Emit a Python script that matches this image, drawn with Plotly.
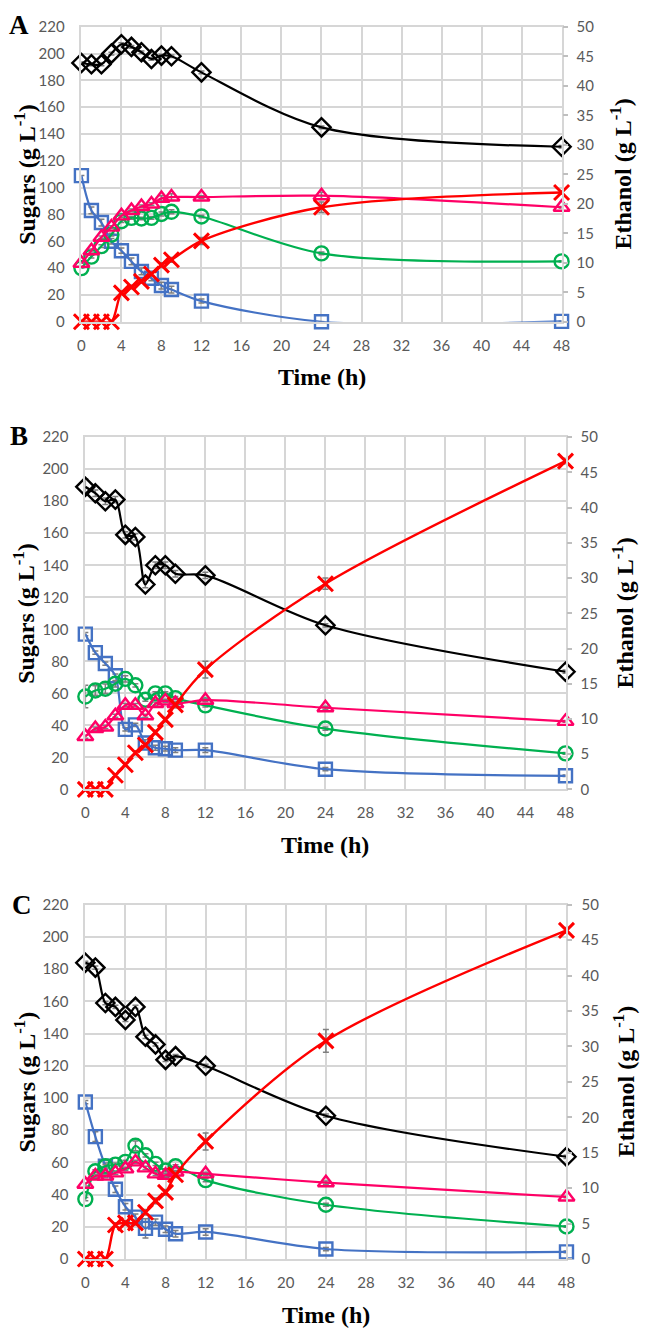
import plotly.graph_objects as go

W, H = 648, 1340

time_h = [0, 1, 2, 3, 4, 5, 6, 7, 8, 9, 12, 24, 48]
x_ticks = list(range(0, 49, 4))
sugar_ticks = list(range(0, 221, 20))
eth_ticks = list(range(0, 51, 5))
panel_labels = ["A", "B", "C"]

# ---- Panel A ----
a_blue = [109, 83, 74, 60, 53, 45, 37.5, 32.5, 27, 24, 15.4, 0, 0.3]
a_green = [40, 48.6, 56.4, 65, 75, 77.5, 77, 77.5, 80.4, 82, 78.5, 51, 45]
a_pink = [43.6, 53, 63, 70.6, 79, 83, 86, 87.8, 92, 93, 93, 94, 85.4]
a_black = [193, 192, 192, 200, 207, 205, 201, 196, 198.5, 198, 186, 145, 130.5]
a_eth = [0, 0, 0, 0, 4.9, 5.9, 6.85, 8.1, 9.6, 10.5, 13.7, 19.4, 21.9]
a_blue_err = [0, 2.5, 2.5, 2, 2, 2.5, 2.5, 2, 2.5, 2.5, 1.5, 0, 0]
a_green_err = [0, 1, 1, 1, 1, 1, 1, 1, 1.5, 1.5, 1, 1, 0.5]
a_pink_err = [0, 1, 1, 1, 1, 1, 1, 1, 2, 2.5, 1, 2.5, 0.5]
a_black_err = [1, 1, 1, 1, 1, 1, 1, 1, 1, 1, 1, 1, 1]
a_eth_err = [0, 0, 0, 0, 0.3, 0.3, 0.3, 0.3, 0.4, 0.4, 0.6, 0.9, 0.3]

# ---- Panel B ----
b_blue = [97, 85.4, 78.6, 71, 37.5, 40.3, 29, 26, 25.4, 24.5, 24.5, 12.6, 8.5]
b_green = [58, 61.8, 62.9, 66, 69, 65, 56, 60, 60, 57, 52.5, 38, 22.5]
b_pink = [33, 38, 39, 46, 52.6, 52.6, 46, 53.6, 55.3, 53.6, 55.7, 51, 42.5]
b_black = [189, 185, 180, 181, 159, 157.7, 128, 140, 140, 134.7, 133.7, 102.5, 73.5]
b_eth = [0, 0, 0, 2, 3.5, 5.2, 6.3, 8.1, 9.9, 12, 17, 29.2, 46.6]
b_blue_err = [1, 1, 1, 1, 1, 1, 2, 1.5, 1.5, 1.5, 1.5, 1, 0.5]
b_green_err = [7, 3, 3, 2, 2, 1, 1, 1, 1, 1, 1, 1, 0.5]
b_pink_err = [1, 1, 1, 1, 1, 1, 1, 1, 1, 1, 1, 1, 0.5]
b_black_err = [5, 2, 2, 2, 2, 2, 2, 2, 2, 2, 2, 1, 1]
b_eth_err = [0, 0, 0, 0.2, 0.2, 0.3, 0.3, 0.3, 0.3, 0.4, 1.2, 0.8, 0.4]

# ---- Panel C ----
c_blue = [97.5, 76, 57.6, 43.3, 32.5, 26, 19, 22.9, 18.5, 15.7, 16.8, 6.2, 4.4]
c_green = [37.2, 54.5, 57.6, 58.6, 60.3, 70.3, 64.4, 59.1, 55, 57.6, 49, 33.7, 20.2]
c_pink = [46.4, 51.5, 51.5, 53.5, 56, 60.3, 56.6, 52.9, 52, 54, 52.9, 47.4, 38.5]
c_black = [184, 181, 159, 156.6, 148.5, 156.6, 138, 133.3, 123.7, 126, 120, 89, 63.5]
c_eth = [0, 0, 0, 4.8, 5.1, 5.1, 6.6, 8.2, 9.4, 11.9, 16.6, 30.8, 46.4]
c_blue_err = [1, 3, 2, 2, 2, 2, 6, 2, 2, 2, 2, 1, 0.5]
c_green_err = [1, 1, 1, 1, 1, 3, 1, 1, 1, 1, 1, 1, 0.5]
c_pink_err = [1, 1, 1, 1, 1, 1, 1, 1, 1, 1, 1, 1, 0.5]
c_black_err = [1, 1, 1, 1, 1, 1, 1, 1, 1, 1, 1, 1, 1]
c_eth_err = [0, 0, 0, 0.3, 0.3, 0.3, 0.4, 0.4, 0.4, 0.4, 1.2, 1.6, 0.4]

BLUE = "#4472C4"
GREEN = "#00B050"
PINK = "#FF0066"
BLACK = "#000000"
RED = "#FF0000"
ERR = "#7F7F7F"
GRID = "#D6D6D6"
TICKC = "#595959"
TICKFONT = dict(family="Lato", size=15, color=TICKC)
SERIF = "Liberation Serif"

panels = [
    dict(blue=a_blue, green=a_green, pink=a_pink, black=a_black, eth=a_eth,
         errs=(a_blue_err, a_green_err, a_pink_err, a_black_err, a_eth_err),
         box=(79, 569, 17, 316), sug_x=22, eth_x=630, time_y=372, let=(15, 15)),
    dict(blue=b_blue, green=b_green, pink=b_pink, black=b_black, eth=b_eth,
         errs=(b_blue_err, b_green_err, b_pink_err, b_black_err, b_eth_err),
         box=(83, 573, 433, 790), sug_x=21, eth_x=632, time_y=846, let=(15, 432)),
    dict(blue=c_blue, green=c_green, pink=c_pink, black=c_black, eth=c_eth,
         errs=(c_blue_err, c_green_err, c_pink_err, c_black_err, c_eth_err),
         box=(83, 574, 907, 1266), sug_x=21, eth_x=633, time_y=1323, let=(18, 907)),
]


def px_x(v):
    return v / W


def px_y(v):
    return 1 - v / H


fig = go.Figure()
layout = dict(width=W, height=H, autosize=False, margin=dict(l=0, r=0, t=0, b=0),
              paper_bgcolor="white", plot_bgcolor="white", showlegend=False,
              annotations=[])

for i, p in enumerate(panels):
    xid = "x" if i == 0 else f"x{i + 1}"
    ylid = "y" if i == 0 else f"y{2 * i + 1}"
    yrid = f"y{2 * i + 2}"
    xkey = "xaxis" if i == 0 else f"xaxis{i + 1}"
    ylkey = "yaxis" if i == 0 else f"yaxis{2 * i + 1}"
    yrkey = f"yaxis{2 * i + 2}"
    x0, x1, y0, y1 = p["box"]

    layout[xkey] = dict(domain=[px_x(x0), px_x(x1)], anchor=ylid, range=[0, 48],
                        tickvals=x_ticks, showgrid=True, gridcolor=GRID, gridwidth=1.6,
                        showline=True, linecolor=GRID, linewidth=1.6, mirror=True,
                        zeroline=False, ticks="", tickfont=TICKFONT, ticklabelstandoff=9)
    layout[ylkey] = dict(domain=[px_y(y1), px_y(y0)], anchor=xid, range=[0, 220],
                         tickvals=sugar_ticks, showgrid=True, gridcolor=GRID, gridwidth=1.6,
                         showline=True, linecolor=GRID, linewidth=1.6, mirror=True,
                         zeroline=False, ticks="", tickfont=TICKFONT, ticklabelstandoff=12)
    layout[yrkey] = dict(domain=[px_y(y1), px_y(y0)], anchor=xid, overlaying=ylid,
                         side="right", range=[0, 50], tickvals=eth_ticks, showgrid=False,
                         zeroline=False, showline=False, ticks="outside", ticklen=5,
                         tickwidth=1.5, tickcolor="#BFBFBF", tickfont=TICKFONT,
                         ticklabelstandoff=6)

    errs = p["errs"]
    series = [
        (p["blue"], errs[0], BLUE, "square-open", 13),
        (p["green"], errs[1], GREEN, "circle-open", 14),
        (p["pink"], errs[2], PINK, "triangle-up-open", 14),
        (p["black"], errs[3], BLACK, "diamond-open", 14),
    ]
    for vals, err, col, sym, sz in series:
        fig.add_trace(go.Scatter(
            x=time_h, y=vals, xaxis=xid, yaxis=ylid, mode="lines+markers",
            line=dict(color=col, width=2.2, shape="spline", smoothing=0.9),
            marker=dict(symbol=sym, size=sz, color=col, line=dict(width=2.4, color=col)),
            error_y=dict(type="data", array=err, visible=True, color=ERR, thickness=1.5, width=3),
            cliponaxis=False))
    fig.add_trace(go.Scatter(
        x=time_h, y=p["eth"], xaxis=xid, yaxis=yrid, mode="lines+markers",
        line=dict(color=RED, width=2.4, shape="spline", smoothing=0.9),
        marker=dict(symbol="x-thin", size=15, color=RED, line=dict(width=3, color=RED)),
        error_y=dict(type="data", array=errs[4], visible=True, color=ERR, thickness=1.5, width=3),
        cliponaxis=False))

    ymid = (y0 + y1) / 2
    tf = dict(family=SERIF, size=24, color="#000000")
    layout["annotations"] += [
        dict(text="<b>Sugars (g L<sup>-1</sup>)</b>", x=px_x(p["sug_x"]), y=px_y(ymid),
             xref="paper", yref="paper", xanchor="center", yanchor="middle",
             textangle=-90, showarrow=False, font=tf),
        dict(text="<b>Ethanol (g L<sup>-1</sup>)</b>", x=px_x(p["eth_x"]), y=px_y(ymid),
             xref="paper", yref="paper", xanchor="center", yanchor="middle",
             textangle=-90, showarrow=False, font=tf),
        dict(text="<b>Time (h)</b>", x=px_x((x0 + x1) / 2), y=px_y(p["time_y"]),
             xref="paper", yref="paper", xanchor="center", yanchor="middle",
             showarrow=False, font=tf),
        dict(text="<b>" + panel_labels[i] + "</b>", x=px_x(p["let"][0]), y=px_y(p["let"][1]),
             xref="paper", yref="paper", xanchor="center", yanchor="middle",
             showarrow=False, font=dict(family=SERIF, size=27, color="#000000")),
    ]

fig.update_layout(**layout)
fig.write_html("out.html", config={"displayModeBar": False},
               post_script="document.body.style.margin='0';document.body.style.overflow='hidden';")
